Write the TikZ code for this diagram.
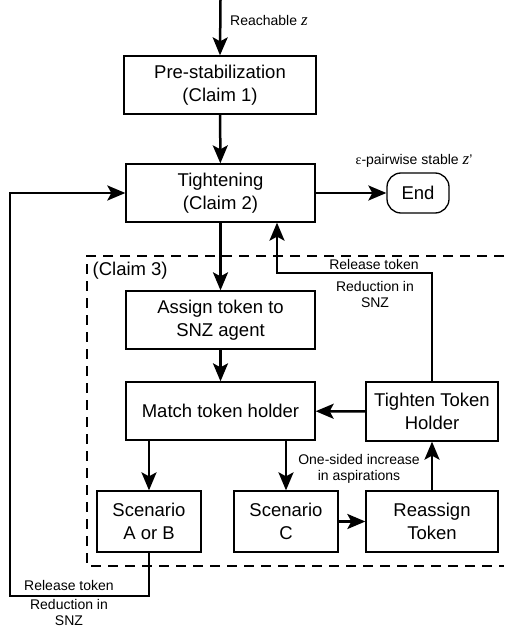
\documentclass[tikz,border=0pt]{standalone}
\usepackage{fontspec}
\setmainfont{Liberation Sans}
\newfontfamily\seriffam{Liberation Serif}
\usetikzlibrary{arrows.meta}
\tikzset{
  box/.style={draw, line width=1.3pt, align=center, inner sep=0pt,
    font=\fontsize{18.5}{23}\selectfont},
  lbl/.style={align=center, inner sep=0pt, font=\fontsize{14}{16.5}\selectfont},
  conn/.style={line width=2.5pt, -{Stealth[length=18pt,width=15pt,inset=4pt]}},
}
\newcommand{\zvar}{{\fontsize{17}{17}\selectfont\seriffam\itshape z}}
\begin{document}
\begin{tikzpicture}[x=1pt,y=-1pt]
\useasboundingbox (0,0) rectangle (504,628);
% dashed region
\draw[line width=1.3pt, dash pattern=on 10pt off 7pt] (504,256) -- (87,256) -- (87,566) -- (504,566);
% nodes
\node[box, minimum width=192pt, minimum height=58pt] (pre) at (220,85) {Pre-stabilization\\(Claim 1)};
\node[box, minimum width=189pt, minimum height=58pt] (tight) at (220.5,193) {Tightening\\(Claim 2)};
\node[box, minimum width=62pt, minimum height=40pt, rounded corners=14pt] (end) at (418,193) {End};
\node[box, minimum width=189pt, minimum height=58pt] (assign) at (220.5,320) {Assign token to\\SNZ agent};
\node[box, minimum width=189pt, minimum height=58pt] (match) at (220.5,411) {Match token holder};
\node[box, minimum width=132pt, minimum height=59pt] (tth) at (432,411.5) {Tighten Token\\Holder};
\node[box, minimum width=104pt, minimum height=61pt] (scab) at (149,521.5) {Scenario\\A or B};
\node[box, minimum width=104pt, minimum height=61pt] (scc) at (286,521.5) {Scenario\\C};
\node[box, minimum width=132pt, minimum height=61pt] (reas) at (432,521.5) {Reassign\\Token};
% coordinates
\coordinate (start) at (220.5,0);
\coordinate (rt) at (277,273);
\coordinate (lb) at (10,596);
% connectors
\draw[conn] (start) -- (pre.north);
\draw[conn] (pre) -- (tight);
\draw[conn] (tight) -- (end);
\draw[conn] (tight) -- (assign);
\draw[conn] (assign) -- (match);
\draw[conn] (tth) -- (match);
\draw[conn] (scab.north |- match.south) -- (scab.north);
\draw[conn] (scc.north |- match.south) -- (scc.north);
\draw[conn] (scc) -- (reas);
\draw[conn] (reas) -- (tth);
\draw[conn] (tth.north) |- (rt) -- (rt |- tight.south);
\draw[conn] (scab.south) |- (lb) |- (tight.west);
% labels
\node[lbl, anchor=west] (lreach) at (230,20) {Reachable \zvar};
\node[lbl] (leps) at (414,161) {{\seriffam ε}-pairwise stable \zvar’};
\node[box, draw=none, anchor=west] (lclaim) at (92,271) {(Claim 3)};
\node[lbl] (lrel1) at (374,264) {Release token};
\node[lbl] (lred1) at (375,294.5) {Reduction in\\SNZ};
\node[lbl] (lone) at (359,469) {One-sided increase\\in aspirations};
\node[lbl] (lrel2) at (69,585) {Release token};
\node[lbl] (lred2) at (69,612.5) {Reduction in\\SNZ};
\end{tikzpicture}
\end{document}
